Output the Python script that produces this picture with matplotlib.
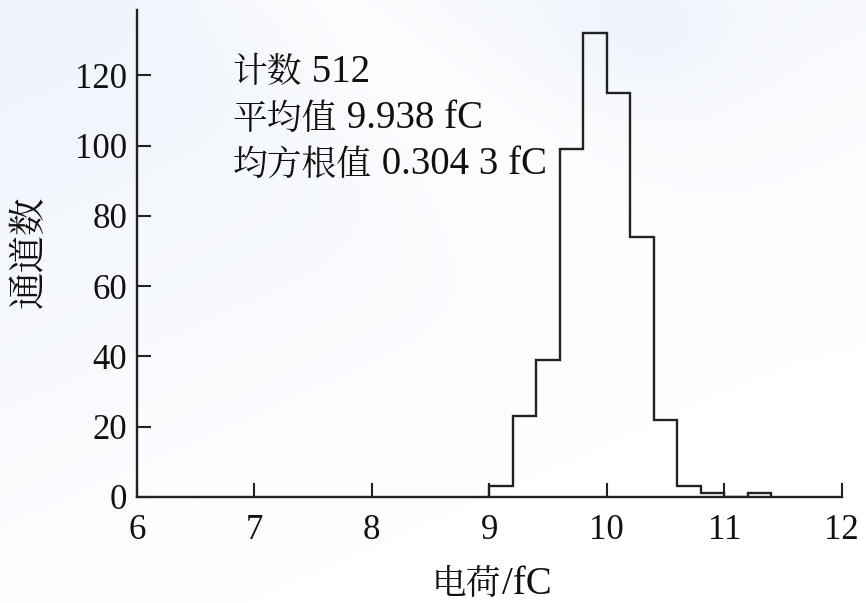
import matplotlib
matplotlib.use("Agg")
import matplotlib.pyplot as plt
import numpy as np

bin_edges = [9.0, 9.2, 9.4, 9.6, 9.8, 10.0, 10.2, 10.4, 10.6, 10.8, 11.0, 11.2, 11.4]
counts = [3, 23, 39, 99, 132, 115, 74, 22, 3, 1, 0, 1]
x_ticks = [6, 7, 8, 9, 10, 11, 12]
y_ticks = [0, 20, 40, 60, 80, 100, 120]
stats_names = ["计数", "平均值", "均方根值"]
stats_values = ["512", "9.938 fC", "0.304 3 fC"]
xlabel_cn = "电荷"
xlabel_unit = "/fC"
ylabel = "通道数"

serif = ["Liberation Serif", "Noto Sans CJK SC"]
cjk = ["Noto Serif CJK SC", "Noto Sans CJK SC", "DejaVu Sans"]
plt.rcParams["font.family"] = serif

fig = plt.figure(figsize=(8.66, 6.03), dpi=100)

# faint watermark-like background tint
bg = fig.add_axes([0, 0, 1, 1], zorder=-10)
yy, xx = np.mgrid[0:1:200j, 0:1:300j]
band = np.exp(-((xx * 0.9 + (1 - yy) * 0.6 - 0.95) ** 2) / 0.02)
tint = np.clip(0.55 * (1 - yy) + 0.35 * (1 - xx) - 0.25, 0, 1) * (1 - 0.7 * band)
tint = np.clip(tint + 0.25 * np.exp(-((xx - 0.75) ** 2 + (yy - 0.05) ** 2) / 0.01), 0, 1)
base = np.array([1.0, 1.0, 1.0])
blue = np.array([0.90, 0.93, 0.98])
img = base[None, None, :] * (1 - tint[..., None]) + blue[None, None, :] * tint[..., None]
bg.imshow(img, origin="upper", aspect="auto", extent=[0, 1, 0, 1])
bg.axis("off")

ax = fig.add_axes([0.158, 0.176, 0.814, 0.807])
ax.patch.set_alpha(0)
ink = "#222222"

ax.stairs(counts, bin_edges, baseline=0, color=ink, linewidth=1.7)

ax.set_xlim(6, 12)
ax.set_ylim(0, 138.5)
ax.set_xticks(x_ticks)
ax.set_yticks(y_ticks)
for s in ["top", "right"]:
    ax.spines[s].set_visible(False)
for s in ["left", "bottom"]:
    ax.spines[s].set_color(ink)
    ax.spines[s].set_linewidth(1.7)
ax.tick_params(direction="in", length=10, width=1.5, color=ink,
               labelsize=25, labelcolor="#111111")
ax.tick_params(axis="y", pad=7)
ax.tick_params(axis="x", pad=12)

# y label
fig.text(30 / 866, 1 - 252 / 603, ylabel, rotation=90, fontsize=27,
         family=cjk, color="#111111", ha="center", va="center")
# x label
t = fig.text(432 / 866, 1 - 584 / 603, xlabel_cn, fontsize=25, family=cjk,
             color="#111111", ha="left", va="center")
ax.annotate(xlabel_unit, xy=(1, 0.5), xycoords=t, fontsize=28, family=serif,
            color="#111111", ha="left", va="center")

for i, (nm, val) in enumerate(zip(stats_names, stats_values)):
    tt = ax.text(0.136, 0.872 - i * 0.0950, nm, transform=ax.transAxes,
                 fontsize=25, family=cjk, color="#111111", va="center", ha="left")
    ax.annotate(" " + val, xy=(1, 0.5), xycoords=tt, fontsize=28, family=serif,
                color="#111111", ha="left", va="center")

fig.savefig("out.png", dpi=100)
